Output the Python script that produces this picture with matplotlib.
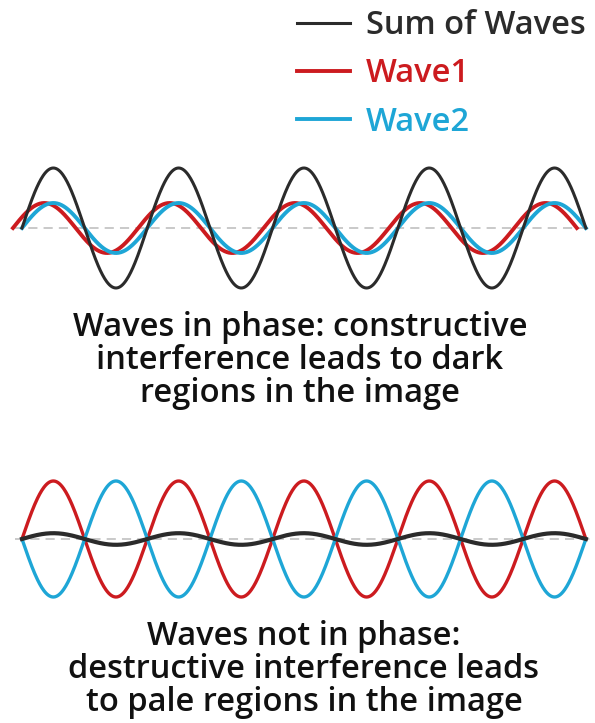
import numpy as np
import matplotlib
matplotlib.use("Agg")
import matplotlib.pyplot as plt

plt.rcParams['font.family'] = ['Open Sans', 'DejaVu Sans']

# wave settings (x in cycles, y in wave amplitude units)
n_cycles = 4.5
red_shift = 0.072          # wave1 leads wave2 a little in the top panel
top_amp = [1.0, 1.0]       # wave1, wave2
top_sum_amp = 2.4
bot_amp = [1.0, -1.0]      # wave1, wave2 (opposite phase)
bot_sum_amp = 0.1

labels = ["Sum of Waves", "Wave1", "Wave2"]
colors = ["#2b2b2b", "#cc1b1f", "#1ea6d6"]

top_caption = "Waves in phase: constructive\ninterference leads to dark\nregions in the image"
bot_caption = "Waves not in phase:\ndestructive interference leads\nto pale regions in the image"

W, H = 595, 723
fig = plt.figure(figsize=(W / 100, H / 100), dpi=100)

px_per_cycle = 125.3
x0_px = 22


def axes_px(top, bottom):
    return fig.add_axes([0, (H - bottom) / H, 1, (bottom - top) / H])


xlim = (-x0_px / px_per_cycle, (W - x0_px) / px_per_cycle)

# top panel
ax1 = axes_px(150, 306)
t = np.linspace(0, n_cycles, 800)
ax1.axhline(0, xmin=13 / W, xmax=587 / W, color="#bbbbbb", lw=1.1, dashes=(6, 4), zorder=1)
l1, = ax1.plot(t - red_shift, top_amp[0] * np.sin(2 * np.pi * t), color=colors[1], lw=2.8, zorder=2)
l2, = ax1.plot(t, top_amp[1] * np.sin(2 * np.pi * t), color=colors[2], lw=2.8, zorder=3)
l0, = ax1.plot(t, top_sum_amp * np.sin(2 * np.pi * t), color=colors[0], lw=2.2, zorder=4)
ax1.set_xlim(*xlim)
ax1.set_ylim(-78 / 25, 78 / 25)
ax1.axis("off")

# bottom panel
ax2 = axes_px(471, 607)
ax2.axhline(0, xmin=15 / W, xmax=590 / W, color="#bbbbbb", lw=1.1, dashes=(6, 4), zorder=1)
ax2.plot(t, bot_amp[0] * np.sin(2 * np.pi * t), color=colors[1], lw=2.4, zorder=2)
ax2.plot(t, bot_amp[1] * np.sin(2 * np.pi * t), color=colors[2], lw=2.4, zorder=3)
ax2.plot(t, bot_sum_amp * np.sin(2 * np.pi * t), color=colors[0], lw=3.0, zorder=4)
ax2.set_xlim(*xlim)
ax2.set_ylim(-68 / 58, 68 / 58)
ax2.axis("off")

# legend
fig.legend([l0, l1, l2], labels, loc="upper left", bbox_to_anchor=(297 / W, 1 - 9 / H),
           frameon=False, handlelength=1.62, handletextpad=0.48,
           labelspacing=0.47, borderaxespad=0, borderpad=0,
           prop={'weight': 'semibold', 'size': 23.5}, labelcolor=colors)

fig.text(300 / W, 1 - 311 / H, top_caption, ha="center", va="top", fontsize=23.5,
         fontweight="semibold", color="#111111", linespacing=1.0)
fig.text(304 / W, 1 - 620 / H, bot_caption, ha="center", va="top", fontsize=23.5,
         fontweight="semibold", color="#111111", linespacing=1.0)

fig.savefig("out.png", dpi=100)
